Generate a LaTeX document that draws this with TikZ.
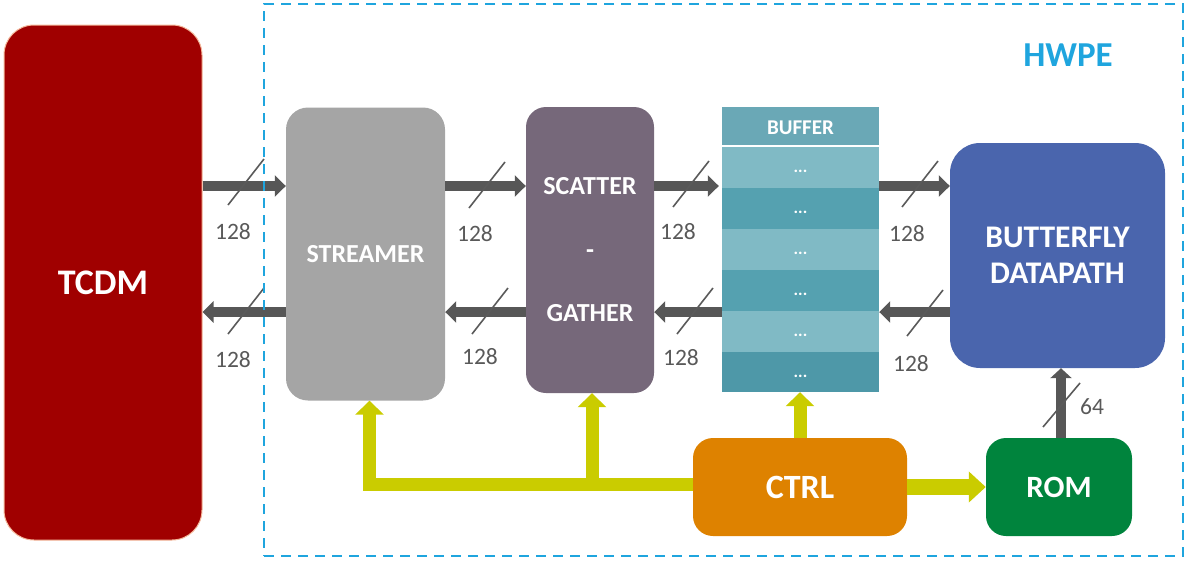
\documentclass[tikz,border=0pt]{standalone}
\usepackage{fontspec}
\setmainfont{Carlito}
\usetikzlibrary{arrows.meta}
\definecolor{tcdmred}{HTML}{A00000}
\definecolor{tcdmedge}{HTML}{F4B89A}
\definecolor{strgray}{HTML}{A5A5A5}
\definecolor{sgpurple}{HTML}{76687A}
\definecolor{bfblue}{HTML}{4A65AD}
\definecolor{ctrlorange}{HTML}{DE8200}
\definecolor{romgreen}{HTML}{00843D}
\definecolor{ctlyellow}{HTML}{CACC00}
\definecolor{busgray}{HTML}{575757}
\definecolor{slashgray}{HTML}{5A5A5A}
\definecolor{labelgray}{HTML}{595959}
\definecolor{hwpecyan}{HTML}{1FA5DE}
\definecolor{bufhead}{HTML}{6AA8B6}
\definecolor{buflight}{HTML}{80BAC5}
\definecolor{bufdark}{HTML}{55A1B0}
\definecolor{bufdarker}{HTML}{4E98A8}
\begin{document}
\begin{tikzpicture}[x=1pt,y=-1pt,
  box/.style={rounded corners=20pt, text=white, inner sep=0pt, align=center,
              font=\bfseries\fontsize{26}{30}\selectfont},
  bus/.style={line width=10pt, draw=busgray, line join=miter,
              -{Triangle[width=21pt,length=11pt]}},
  ctl/.style={line width=13pt, draw=ctlyellow, line join=miter,
              -{Triangle[width=28pt,length=14pt]}},
  slash/.style={draw=slashgray, line width=1.6pt},
  wlabel/.style={text=labelgray, inner sep=0pt, font=\fontsize{23.5}{26}\selectfont},
  dots/.style={text=white, inner sep=0pt, font=\bfseries\fontsize{17}{18}\selectfont}]
\useasboundingbox (0,0) rectangle (1188,563);

% blocks
\node[box, fill=tcdmred, draw=tcdmedge, line width=1pt, rounded corners=30pt,
      minimum width=198pt, minimum height=515pt,
      font=\bfseries\fontsize{36}{40}\selectfont] (tcdm) at (103,282.5) {TCDM};
\node[box, fill=strgray, rounded corners=22pt, minimum width=159pt, minimum height=293pt]
      (str) at (365.5,254) {STREAMER};
\node[box, fill=sgpurple, minimum width=128pt, minimum height=286pt,
      font=\bfseries\fontsize{26}{63.5}\selectfont] (sg) at (590,250) {SCATTER\\-\\GATHER};
\node[fill=bufhead, minimum width=157pt, minimum height=285pt, inner sep=0pt]
      (buf) at (800.5,249.5) {};
\node[box, fill=bfblue, rounded corners=30pt, minimum width=215pt, minimum height=225pt,
      font=\bfseries\fontsize{31.5}{36}\selectfont] (bf) at (1057.5,255.5) {BUTTERFLY\\DATAPATH};
\node[box, fill=ctrlorange, minimum width=214pt, minimum height=98pt,
      font=\bfseries\fontsize{34}{36}\selectfont] (ctrl) at (800,487) {CTRL};
\node[box, fill=romgreen, minimum width=146pt, minimum height=98pt,
      font=\bfseries\fontsize{31}{34}\selectfont] (rom) at (1059,487) {ROM};

% buffer rows
\fill[buflight] (722,147) rectangle (879,188);
\fill[bufdark]  (722,188) rectangle (879,229);
\fill[buflight] (722,229) rectangle (879,270);
\fill[bufdark]  (722,270) rectangle (879,311);
\fill[buflight] (722,311) rectangle (879,352);
\fill[bufdarker](722,352) rectangle (879,392);
\draw[white, line width=2pt] (722,146) -- (879,146);
\node[text=white, font=\bfseries\fontsize{21}{24}\selectfont] (bufl) at (800.5,128) {BUFFER};
\node[dots] (d1) at (800.5,171) {...};
\node[dots] (d2) at (800.5,212) {...};
\node[dots] (d3) at (800.5,253) {...};
\node[dots] (d4) at (800.5,294) {...};
\node[dots] (d5) at (800.5,335) {...};
\node[dots] (d6) at (800.5,376) {...};

% bus arrows
\coordinate (yA) at (0,186);
\coordinate (yB) at (0,312);
\draw[bus] (tcdm.east |- yA) -- (str.west |- yA);
\draw[bus] (str.west |- yB) -- (tcdm.east |- yB);
\draw[bus] (str.east |- yA) -- (sg.west |- yA);
\draw[bus] (sg.west |- yB) -- (str.east |- yB);
\draw[bus] (sg.east |- yA) -- ([xshift=-3pt]buf.west |- yA);
\draw[bus] (buf.west |- yB) -- (sg.east |- yB);
\draw[bus] (buf.east |- yA) -- (bf.west |- yA);
\draw[bus] (bf.west |- yB) -- (buf.east |- yB);
\draw[bus, -{Triangle[width=21pt,length=10pt]}] ([xshift=2pt]rom.north) -- ([xshift=2pt]rom.north |- bf.south);

% width slashes
\draw[slash] (246,182) ++(-18,23) -- ++(36,-46);
\draw[slash] (246,311) ++(-18,23) -- ++(36,-46);
\draw[slash] (487,185) ++(-18,23) -- ++(36,-46);
\draw[slash] (490,311) ++(-18,23) -- ++(36,-46);
\draw[slash] (691,184) ++(-18,23) -- ++(36,-46);
\draw[slash] (695,311) ++(-18,23) -- ++(36,-46);
\draw[slash] (920,184) ++(-18,23) -- ++(36,-46);
\draw[slash] (925,313) ++(-18,23) -- ++(36,-46);
\draw[slash] (1061,405) ++(-18,22) -- ++(37,-44);

% width labels
\node[wlabel] (l1) at (233,232) {128};
\node[wlabel] (l2) at (233,360) {128};
\node[wlabel] (l3) at (475,234) {128};
\node[wlabel] (l4) at (480,357) {128};
\node[wlabel] (l5) at (678,232) {128};
\node[wlabel] (l6) at (681,358) {128};
\node[wlabel] (l7) at (907,234) {128};
\node[wlabel] (l8) at (911,364) {128};
\node[wlabel] (l9) at (1092,407) {64};

% control arrows
\coordinate (yC) at (0,484);
\draw[ctl] (ctrl.west |- yC) -| ([xshift=4pt]str.south);
\draw[ctl] ([xshift=2pt]sg.south |- yC) -- ([xshift=2pt]sg.south);
\draw[ctl] (ctrl.north) -- (ctrl.north |- buf.south);
\draw[ctl, line width=16pt, -{Triangle[width=30pt,length=17pt]}] (ctrl.east) -- (rom.west);

% HWPE region
\node[draw=hwpecyan, line width=2.5pt, dash pattern=on 10pt off 7pt,
      minimum width=919pt, minimum height=552pt, inner sep=0pt] (hwpe) at (723.5,280) {};
\node[text=hwpecyan, font=\bfseries\fontsize{35}{38}\selectfont] (hwpel) at (1068,55) {HWPE};
\end{tikzpicture}
\end{document}
